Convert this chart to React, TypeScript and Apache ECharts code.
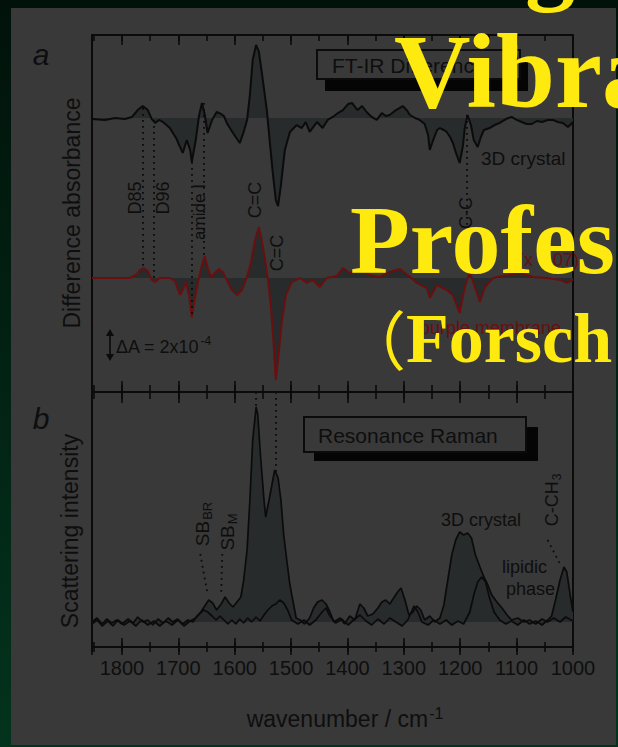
import React, { useEffect, useRef } from "react";
import * as echarts from "echarts";

// FT-IR difference spectrum of the 3D crystal  [wavenumber / cm-1, ΔA in 1e-4]
const irCrystal: number[][] = [
  [1853, -0.07], [1830, -0.13], [1812, 0], [1795, -0.07], [1782, 0.07], [1772, 0.53], [1763, 0.8],
  [1754, 0.53], [1747, -0.07], [1741, -0.33], [1734, -0.13], [1727, -0.27], [1715, -0.67], [1704, -1.33],
  [1697, -1.93], [1692, -2.33], [1685, -1.47], [1679, -2.13], [1676, -2.93], [1669, -1.47], [1663, 0.2],
  [1658, 1.0], [1653, 0.2], [1648, -1.0], [1640, -0.13], [1632, 0.4], [1624, 0.27], [1619, 0.13],
  [1614, -0.33], [1603, -1.0], [1591, -1.67], [1584, -0.93], [1578, -0.13], [1573, 1.53], [1568, 3.87],
  [1562, 4.87], [1557, 4.4], [1550, 2.53], [1543, 0.53], [1538, -1.47], [1532, -3.8], [1527, -5.47],
  [1523, -5.87], [1518, -4.47], [1511, -2.13], [1502, -0.93], [1490, -0.47], [1481, -0.67], [1474, -0.27],
  [1467, -0.93], [1454, -0.27], [1444, -0.67], [1435, -0.13], [1426, 0.07], [1417, 0.33], [1408, 0.53],
  [1399, 0.93], [1392, 1.0], [1382, 0.53], [1374, 0.8], [1366, 0.4], [1357, 0.07], [1348, -0.13],
  [1339, 0.33], [1332, 0.13], [1325, 0.2], [1314, 0.53], [1307, 0.67], [1302, 0.8], [1295, 0.53],
  [1289, 0.2], [1280, 0], [1272, -0.13], [1263, -0.4], [1257, -1.13], [1254, -2.13], [1248, -1.47],
  [1241, -0.8], [1236, -0.67], [1229, -0.8], [1224, -0.93], [1218, -1.27], [1213, -1.67], [1208, -2.27],
  [1201, -3.0], [1195, -1.8], [1192, -0.67], [1187, 0.2], [1181, -0.47], [1176, -1.47], [1169, -1.93],
  [1164, -1.33], [1158, -0.8], [1148, -0.67], [1139, -0.47], [1130, -0.33], [1119, -0.07], [1109, 0.07],
  [1100, -0.13], [1091, -0.27], [1082, -0.4], [1073, -0.4], [1064, -0.2], [1055, -0.27], [1045, -0.13],
  [1036, -0.13], [1027, -0.27], [1018, -0.33], [1009, -0.6], [1000, -0.27],
];

// FT-IR difference spectrum of purple membrane  [wavenumber, ΔA in 1e-4]
const irMembrane: number[][] = [
  [1853, 0], [1821, 0], [1786, 0], [1775, 0.2], [1768, 0.53], [1761, 0.67], [1754, 0.47], [1747, -0.13],
  [1741, -0.27], [1733, 0], [1715, 0], [1706, -0.2], [1697, -1.13], [1692, -0.8], [1687, -0.27],
  [1681, -1.13], [1676, -2.6], [1671, -1.47], [1665, -0.27], [1658, 0.87], [1653, 1.47], [1648, 0.67],
  [1642, 0.07], [1635, 0.33], [1628, 0.6], [1621, 0.4], [1614, -0.13], [1605, -0.8], [1596, -1.13],
  [1587, -0.8], [1578, 0.07], [1571, 1.07], [1564, 2.53], [1557, 3.4], [1552, 2.53], [1546, 1.2],
  [1541, -0.13], [1536, -1.8], [1532, -3.8], [1527, -6.8], [1522, -5.13], [1516, -2.8], [1509, -1.13],
  [1499, -0.27], [1484, 0], [1472, -0.33], [1461, -0.13], [1449, -0.6], [1437, 0], [1419, 0.13],
  [1408, 0.67], [1396, 0.33], [1378, 0.53], [1360, 0.2], [1343, 0.07], [1325, 0.4], [1307, 0.6],
  [1289, 0.07], [1277, -0.33], [1259, -0.67], [1254, -1.33], [1241, -0.47], [1224, -0.8], [1213, -1.13],
  [1201, -2.33], [1192, -0.6], [1183, 0.4], [1174, -0.6], [1165, -1.6], [1156, -0.6], [1142, 0],
  [1117, 0.2], [1094, 0.33], [1071, 0.07], [1046, 0], [1023, -0.13], [1011, -0.33], [1000, -0.13],
];

// Resonance Raman, 3D crystal  [wavenumber, intensity (a.u.)]
const ramanCrystal: number[][] = [
  [1853, 0], [1844, 2], [1835, -1], [1827, 1.5], [1818, -0.5], [1809, 1], [1800, -1], [1789, 1.5],
  [1780, -0.5], [1772, 2.5], [1763, 0], [1754, 1], [1745, -1.5], [1736, 1.5], [1727, -0.5], [1718, 2],
  [1710, 0], [1701, 1.5], [1692, -1], [1683, 1], [1674, 0], [1667, 3], [1660, 5], [1653, 8], [1646, 11],
  [1639, 9.5], [1632, 6], [1624, 9], [1617, 12.5], [1610, 9.5], [1603, 7.5], [1596, 10], [1589, 12.5],
  [1584, 21], [1578, 36], [1573, 61], [1568, 91], [1562, 107.5], [1559, 103.5], [1554, 82.5], [1548, 61],
  [1545, 52.5], [1539, 61], [1534, 68.5], [1529, 76], [1523, 72], [1518, 61], [1513, 43.5], [1507, 29.5],
  [1502, 18.5], [1497, 11], [1491, 2], [1484, 1], [1476, -1], [1467, 2], [1460, 7], [1453, 10], [1445, 11],
  [1438, 9], [1431, 5], [1424, 0], [1413, 2], [1405, -1], [1396, 3], [1387, 1], [1378, 9], [1371, 7],
  [1364, 3], [1355, 4], [1346, 7], [1339, 10], [1332, 11], [1325, 9], [1318, 12], [1311, 15], [1305, 17],
  [1298, 11], [1291, 3.5], [1284, 5], [1277, 8], [1270, 6], [1263, 1], [1254, 3], [1245, 0], [1236, 2],
  [1229, 8.5], [1222, 21], [1215, 33.5], [1208, 41], [1201, 45], [1194, 43.5], [1187, 44.5], [1180, 42],
  [1173, 33.5], [1165, 27.5], [1158, 22.5], [1151, 18.5], [1144, 13.5], [1135, 10], [1126, 7], [1117, 3.5],
  [1109, 1], [1098, 2], [1087, 0], [1077, 1], [1066, -1], [1055, 1.5], [1045, 0], [1034, 2], [1023, 0],
  [1013, 2.5], [1000, 0.5],
];

// Resonance Raman, lipidic phase  [wavenumber, intensity (a.u.)]
const ramanLipid: number[][] = [
  [1853, -1], [1844, 1], [1835, -2], [1825, 0.5], [1816, -2], [1807, 1], [1796, -1.5], [1786, 0.5],
  [1775, -2], [1765, 1], [1754, -1.5], [1743, 0.5], [1733, -2], [1722, 0.5], [1711, -1.5], [1701, 1],
  [1690, -2], [1679, 0.5], [1669, 2], [1662, 4], [1655, 6], [1648, 5], [1640, 3], [1633, 1], [1626, 3],
  [1619, 1], [1612, -1], [1605, 1], [1598, -1], [1591, 1.5], [1584, -0.5], [1577, 2], [1570, 0],
  [1562, 2.5], [1555, 0.5], [1548, 3.5], [1541, 6], [1534, 8], [1527, 9], [1520, 11], [1513, 9.5],
  [1506, 6], [1499, 1], [1488, -1], [1477, 1], [1467, -1.5], [1456, 1], [1445, 5], [1438, 7], [1431, 3],
  [1421, -0.5], [1410, 1.5], [1399, -1.5], [1389, 1], [1378, 3.5], [1367, 0.5], [1357, -1.5], [1346, 1.5],
  [1335, -1], [1325, 2], [1314, 0], [1303, -2], [1293, 1], [1282, 8], [1275, 5], [1268, 0], [1257, -1.5],
  [1247, 1], [1236, -1], [1225, 1], [1215, -1.5], [1204, 0.5], [1194, -1], [1183, 5], [1176, 13.5],
  [1169, 20], [1162, 22.5], [1155, 20], [1148, 12], [1140, 5], [1130, 1], [1119, -1], [1109, 0.5],
  [1098, -1.5], [1087, 1], [1077, -1], [1066, 0.5], [1055, -1.5], [1045, 1], [1038, 3], [1031, 11],
  [1023, 21], [1016, 27.5], [1011, 25], [1005, 13.5], [1000, 5],
];

// dotted marker lines in panel a, in the 3D-crystal ΔA units
const irMarkers = [
  { wn: 1763, from: 0.67, to: -9.93 },
  { wn: 1744, from: -0.13, to: -10.67 },
  { wn: 1676, from: -2.93, to: -13.27 },
  { wn: 1655, from: 1.0, to: -9.2 },
  { wn: 1562, from: 4.87, to: -18.27 },
  { wn: 1525, from: -5.87, to: -18.27 },
  { wn: 1188, from: 0.2, to: -10.27 },
];
// dotted marker lines in panel b, in Raman intensity units
const ramanMarkers = [
  { wn1: 1562, v1: 115, wn2: 1562, v2: 108 },
  { wn1: 1527, v1: 115, wn2: 1527, v2: 74 },
  { wn1: 1661, v1: 34, wn2: 1648, v2: 14 },
  { wn1: 1622, v1: 34, wn2: 1624, v2: 13 },
];
const lipidMarkers = [{ wn1: 1045, v1: 41, wn2: 1023, v2: 29 }];

const X_MIN = 1000;
const X_MAX = 1853;

const INK = "#0b0b0b";
const RED = "#6a0f0f";
const FILL = "#272b2b";
const PANEL = "#393939";
const YELLOW = "#FFEA10";
const SANS = "Liberation Sans, Arial, sans-serif";
const SERIF = "Liberation Serif, Times New Roman, serif";

function xAxis(gridIndex: number, position: string, interval: number, len: number, inside: boolean, line: boolean, labels: boolean) {
  return {
    type: "value",
    gridIndex,
    position,
    min: X_MIN,
    max: X_MAX,
    inverse: true,
    interval,
    splitLine: { show: false },
    axisLine: { show: line, onZero: false, lineStyle: { color: INK, width: 2 } },
    axisTick: { show: true, inside, length: len, lineStyle: { color: INK, width: 1.6 } },
    axisLabel: labels
      ? {
          show: true,
          margin: 11,
          color: "#0e0e0e",
          fontSize: 20,
          fontFamily: SANS,
          formatter: (v: number) => (v % 100 === 0 ? String(v) : ""),
        }
      : { show: false },
  };
}

function yAxis(gridIndex: number, position: string, min: number, max: number) {
  return {
    type: "value",
    gridIndex,
    position,
    min,
    max,
    splitLine: { show: false },
    axisLine: { show: true, onZero: false, lineStyle: { color: INK, width: 2 } },
    axisTick: { show: false },
    axisLabel: { show: false },
  };
}

function label(text: string, x: number, y: number, opts: any = {}) {
  return {
    type: "text",
    x,
    y,
    rotation: opts.rotate ? Math.PI / 2 : 0,
    z: opts.z ?? 20,
    style: {
      text,
      fill: opts.color ?? "#0e0e0e",
      fontSize: opts.size ?? 17,
      fontFamily: opts.family ?? SANS,
      fontWeight: opts.weight ?? "normal",
      fontStyle: opts.italic ? "italic" : "normal",
      align: opts.align ?? "center",
      verticalAlign: "middle",
      rich: opts.rich,
    },
  };
}

const supRich = (size: number, color = "#0e0e0e") => ({
  n: { fontSize: size, fontFamily: SANS, fill: color, verticalAlign: "bottom" },
  sup: { fontSize: Math.round(size * 0.68), fontFamily: SANS, fill: color, verticalAlign: "top", padding: [0, 0, 9, 1] },
  sub: { fontSize: Math.round(size * 0.68), fontFamily: SANS, fill: color, verticalAlign: "bottom", padding: [8, 0, 0, 1] },
  m: { fontSize: size, fontFamily: SANS, fill: color, verticalAlign: "top" },
});

export default function App() {
  const ref = useRef<HTMLDivElement>(null);
  useEffect(() => {
    if (!ref.current) return;
    const chart = echarts.init(ref.current, undefined, { renderer: "svg" });
    const green = new echarts.graphic.LinearGradient(0, 0, 0, 747, [
      { offset: 0, color: "#01120a" },
      { offset: 1, color: "#03331d" },
    ], true);

    const dotted = { color: INK, width: 1.8, type: [1.8, 4.2] };
    const lineMarks = (items: any[]) => ({
      silent: true,
      symbol: ["none", "none"],
      label: { show: false },
      lineStyle: dotted,
      data: items,
    });

    const option: any = {
      animation: false,
      backgroundColor: PANEL,
      grid: [
        { left: 92, right: 45, top: 35, height: 357 },
        { left: 92, right: 45, top: 392, height: 255 },
      ],
      xAxis: [
        xAxis(0, "top", 100, 10, true, true, false),
        xAxis(0, "top", 50, 6, true, false, false),
        xAxis(0, "bottom", 100, 11, true, true, false),
        xAxis(0, "bottom", 50, 7, true, false, false),
        xAxis(1, "top", 100, 11, true, true, false),
        xAxis(1, "top", 50, 7, true, false, false),
        xAxis(1, "bottom", 100, 9, true, true, true),
        xAxis(1, "bottom", 50, 5, true, false, false),
        xAxis(1, "bottom", 100, 8, false, false, false),
        xAxis(1, "bottom", 50, 5, false, false, false),
      ],
      yAxis: [
        yAxis(0, "left", -18.267, 5.533),
        yAxis(0, "right", -7.6, 16.2),
        yAxis(1, "left", -12.5, 115),
        yAxis(1, "right", -12.5, 115),
      ],
      series: [
        {
          type: "line", name: "3D crystal", xAxisIndex: 0, yAxisIndex: 0, data: irCrystal,
          symbol: "none", lineStyle: { color: INK, width: 2 }, areaStyle: { color: FILL, opacity: 1 }, z: 3,
          markLine: lineMarks(irMarkers.map((m) => [{ coord: [m.wn, m.from] }, { coord: [m.wn, m.to] }])),
        },
        {
          type: "line", name: "purple membrane", xAxisIndex: 0, yAxisIndex: 1, data: irMembrane,
          symbol: "none", lineStyle: { color: RED, width: 2 }, areaStyle: { color: FILL, opacity: 1 }, z: 3,
        },
        {
          type: "line", name: "Raman crystal fill", xAxisIndex: 6, yAxisIndex: 2, data: ramanCrystal,
          symbol: "none", lineStyle: { width: 0, opacity: 0 }, areaStyle: { color: FILL, opacity: 1 }, z: 2,
        },
        {
          type: "line", name: "Raman lipid fill", xAxisIndex: 6, yAxisIndex: 2, data: ramanLipid,
          symbol: "none", lineStyle: { width: 0, opacity: 0 }, areaStyle: { color: FILL, opacity: 1 }, z: 2,
        },
        {
          type: "line", name: "Raman 3D crystal", xAxisIndex: 6, yAxisIndex: 2, data: ramanCrystal,
          symbol: "none", lineStyle: { color: INK, width: 1.7 }, z: 3,
          markLine: lineMarks(ramanMarkers.map((m) => [{ coord: [m.wn1, m.v1] }, { coord: [m.wn2, m.v2] }])),
        },
        {
          type: "line", name: "Raman lipidic phase", xAxisIndex: 6, yAxisIndex: 2, data: ramanLipid,
          symbol: "none", lineStyle: { color: INK, width: 1.7 }, z: 3,
          markLine: lineMarks(lipidMarkers.map((m) => [{ coord: [m.wn1, m.v1] }, { coord: [m.wn2, m.v2] }])),
        },
      ],
      graphic: [
        // dark green slide border
        { type: "rect", z: 50, shape: { x: 0, y: 0, width: 618, height: 8 }, style: { fill: green } },
        { type: "rect", z: 50, shape: { x: 0, y: 0, width: 11, height: 747 }, style: { fill: green } },
        { type: "rect", z: 50, shape: { x: 616, y: 0, width: 2, height: 747 }, style: { fill: green } },
        { type: "rect", z: 50, shape: { x: 0, y: 745, width: 618, height: 2 }, style: { fill: green } },
        // panel boxes
        { type: "rect", z: 10, shape: { x: 325, y: 60, width: 203, height: 31 }, style: { fill: "#050505" } },
        { type: "rect", z: 11, shape: { x: 317, y: 50, width: 203, height: 29 }, style: { fill: PANEL, stroke: INK, lineWidth: 2 } },
        label("FT-IR Difference", 332, 65, { size: 21, align: "left" }),
        { type: "rect", z: 10, shape: { x: 314, y: 427, width: 224, height: 34 }, style: { fill: "#050505" } },
        { type: "rect", z: 11, shape: { x: 304, y: 417, width: 222, height: 35 }, style: { fill: PANEL, stroke: INK, lineWidth: 2 } },
        label("Resonance Raman", 318, 435, { size: 21, align: "left" }),
        // panel letters & axis names
        label("a", 41, 54, { size: 30, italic: true }),
        label("b", 41, 418, { size: 30, italic: true }),
        label("Difference absorbance", 72, 213, { size: 23, rotate: true }),
        label("Scattering intensity", 70, 531, { size: 23, rotate: true }),
        label("{n|wavenumber / cm}{sup|-1}", 345, 718, { size: 23, rich: supRich(23) }),
        // panel a annotations
        label("D85", 135, 198, { rotate: true, size: 18 }),
        label("D96", 163, 198, { rotate: true, size: 18 }),
        label("amide I", 199, 212, { rotate: true, size: 17 }),
        label("C=C", 255, 200, { rotate: true, size: 18 }),
        label("C=C", 277, 253, { rotate: true, size: 18 }),
        label("C-C", 466, 213, { rotate: true, size: 18 }),
        label("3D crystal", 481, 158, { size: 19, align: "left" }),
        label("(x 1.07)", 518, 260, { size: 18, align: "left", color: RED }),
        label("purple membrane", 420, 328, { size: 18, align: "left", color: RED }),
        { type: "line", z: 20, shape: { x1: 110, y1: 333, x2: 110, y2: 357 }, style: { stroke: INK, lineWidth: 1.6 } },
        { type: "polygon", z: 20, shape: { points: [[106, 336], [114, 336], [110, 329]] }, style: { fill: INK } },
        { type: "polygon", z: 20, shape: { points: [[106, 354], [114, 354], [110, 361]] }, style: { fill: INK } },
        label("{n|ΔA = 2x10}{sup|-4}", 116, 345, { size: 18, align: "left", rich: supRich(18) }),
        // panel b annotations
        label("{m|SB}{sub|BR}", 203, 524, { rotate: true, size: 19, rich: supRich(19) }),
        label("{m|SB}{sub|M}", 228, 532, { rotate: true, size: 19, rich: supRich(19) }),
        label("3D crystal", 441, 520, { size: 18, align: "left" }),
        label("{m|C-CH}{sub|3}", 553, 500, { rotate: true, size: 18, rich: supRich(18) }),
        label("lipidic", 502, 567, { size: 18, align: "left" }),
        label("phase", 506, 589, { size: 18, align: "left" }),
        // yellow slide title overlay
        label("g", 525, -42, { size: 100, family: SERIF, weight: "bold", color: YELLOW, align: "left", z: 100 }),
        label("Vibra", 394, 71, { size: 106, family: SERIF, weight: "bold", color: YELLOW, align: "left", z: 100 }),
        label("Profes", 350, 240, { size: 98, family: SERIF, weight: "bold", color: YELLOW, align: "left", z: 100 }),
        label("（", 342, 337, { size: 64, family: "Noto Sans CJK SC, sans-serif", color: YELLOW, align: "left", z: 100 }),
        label("Forsch", 406, 338, { size: 70, family: SERIF, weight: "bold", color: YELLOW, align: "left", z: 100 }),
      ],
    };
    chart.setOption(option);
    return () => chart.dispose();
  }, []);
  return <div ref={ref} style={{ position: "absolute", left: 0, top: 0, width: 618, height: 747 }} />;
}
